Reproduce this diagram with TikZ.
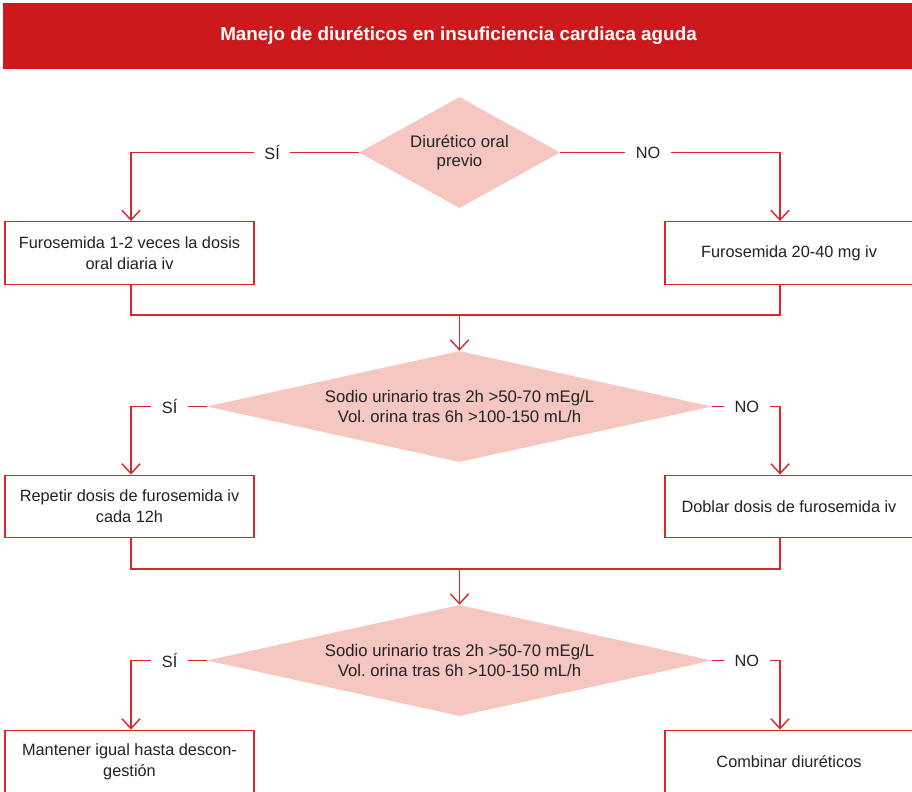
\documentclass[tikz,border=0pt]{standalone}
\usepackage{fontspec}
\setmainfont{Liberation Sans}
\usetikzlibrary{shapes.geometric,arrows.meta}
\definecolor{barred}{HTML}{CC1A1C}
\definecolor{linered}{HTML}{D8262C}
\definecolor{diapink}{HTML}{F6C7C1}
\definecolor{txt}{HTML}{222222}
\tikzset{
	titlebar/.style={fill=barred, minimum width=22.775cm, minimum height=1.65cm, text=white, font=\bfseries\fontsize{13.4}{16}\selectfont},
	box/.style={draw=linered, line width=1pt, minimum width=6.225cm, minimum height=1.5625cm, inner sep=0pt, align=center, text=txt, font=\fontsize{11.6}{15}\selectfont},
	decision/.style={diamond, fill=diapink, inner sep=0pt, shape aspect=4.55, minimum width=12.625cm, minimum height=2.775cm, align=center, text=txt, font=\fontsize{11.9}{14}\selectfont},
	con/.style={draw=linered, line width=1pt},
	arr/.style={con, -{Straight Barb[length=7pt,width=13pt]}},
	answer/.style={fill=white, inner xsep=7.5pt, inner ysep=2pt, text=txt, font=\fontsize{11.6}{14}\selectfont},
}
\begin{document}
\begin{tikzpicture}[x=0.025cm, y=-0.025cm]
	\clip (0,0) rectangle (912,791);
	\fill[white] (0,0) rectangle (912,791);
	\node[titlebar] (title) at (458.5,36) {Manejo de diuréticos en insuficiencia cardiaca aguda};
	\coordinate (lcol) at (131,0);
	\coordinate (rcol) at (780,0);

	\node[decision, shape aspect=1.81, minimum width=5.025cm] (d1) at (459.5,152.5) {Diurético oral\\previo};
	\node[box] (b1) at (129.5,253) {Furosemida 1-2 veces la dosis\\oral diaria iv};
	\node[box, minimum width=6.2cm] (b2) at (789,253) {Furosemida 20-40 mg iv};
	\draw[arr] (d1.west) -- node[answer, pos=.38] {SÍ} (d1.west -| lcol) -- (b1.north -| lcol);
	\draw[arr] (d1.east) -- node[answer, pos=.4] {NO} (d1.east -| rcol) -- (b2.north -| rcol);

	\coordinate (m1) at (459.5,315);
	\draw[con] (b1.south -| lcol) |- (m1) -| (b2.south -| rcol);
	\node[decision] (d2) at (459.5,406.5) {Sodio urinario tras 2h >50-70 mEg/L\\Vol.\ orina tras 6h >100-150 mL/h};
	\draw[arr] (m1) -- (d2.north);
	\node[box] (b3) at (129.5,506.5) {Repetir dosis de furosemida iv\\cada 12h};
	\node[box, minimum width=6.2cm] (b4) at (789,506.5) {Doblar dosis de furosemida iv};
	\draw[arr] (d2.west) -- node[answer, pos=.49] {SÍ} (d2.west -| lcol) -- (b3.north -| lcol);
	\draw[arr] (d2.east) -- node[answer, pos=.51] {NO} (d2.east -| rcol) -- (b4.north -| rcol);

	\coordinate (m2) at (459.5,569);
	\draw[con] (b3.south -| lcol) |- (m2) -| (b4.south -| rcol);
	\node[decision] (d3) at (459.5,660.5) {Sodio urinario tras 2h >50-70 mEg/L\\Vol.\ orina tras 6h >100-150 mL/h};
	\draw[arr] (m2) -- (d3.north);
	\node[box] (b5) at (129.5,761.5) {Mantener igual hasta descon-\\gestión};
	\node[box, minimum width=6.2cm] (b6) at (789,761.5) {Combinar diuréticos};
	\draw[arr] (d3.west) -- node[answer, pos=.49] {SÍ} (d3.west -| lcol) -- (b5.north -| lcol);
	\draw[arr] (d3.east) -- node[answer, pos=.51] {NO} (d3.east -| rcol) -- (b6.north -| rcol);
\end{tikzpicture}
\end{document}
